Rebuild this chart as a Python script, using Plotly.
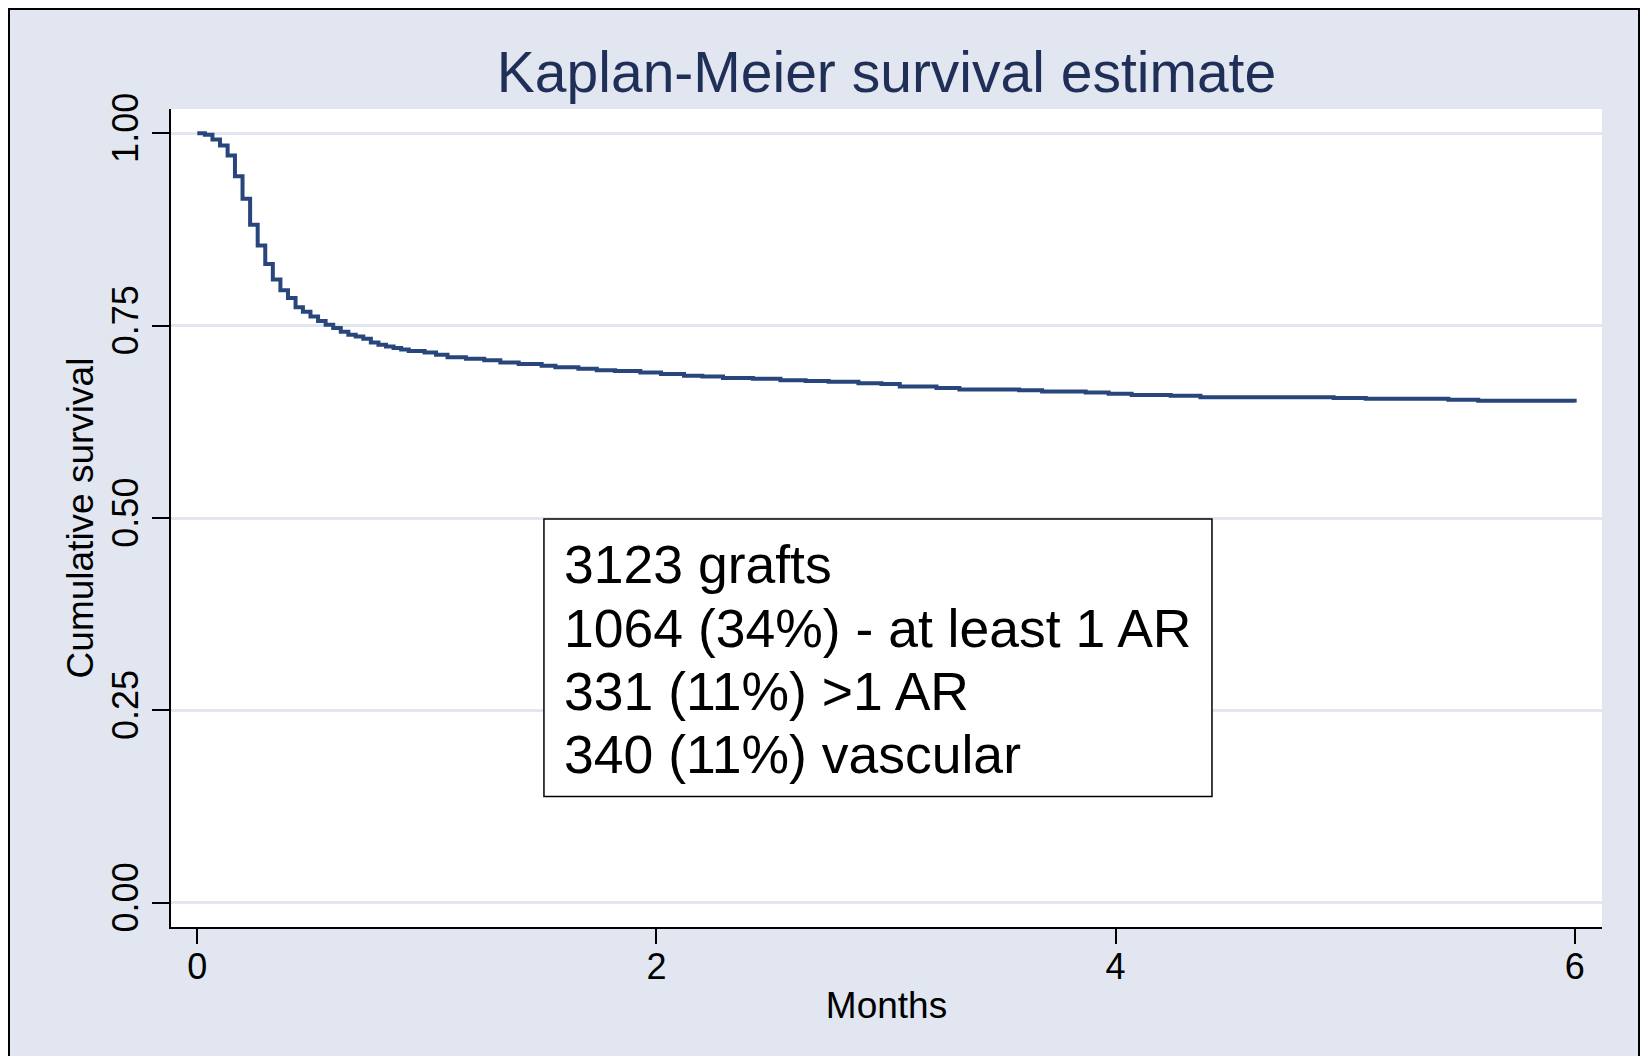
import plotly.graph_objects as go

# ---------------- data ----------------
months = [0.000, 0.033, 0.066, 0.099, 0.132, 0.164, 0.197, 0.230, 0.263, 0.296,
          0.329, 0.362, 0.395, 0.428, 0.460, 0.493, 0.526, 0.559, 0.592, 0.625,
          0.658, 0.690, 0.723, 0.756, 0.789, 0.822, 0.855, 0.888, 0.921, 0.990,
          1.040, 1.090, 1.170, 1.250, 1.320, 1.400, 1.500, 1.560, 1.660, 1.740,
          1.820, 1.930, 2.020, 2.120, 2.200, 2.290, 2.420, 2.540, 2.650, 2.750,
          2.880, 2.980, 3.060, 3.220, 3.320, 3.580, 3.680, 3.870, 3.970, 4.070,
          4.240, 4.370, 4.950, 5.090, 5.450, 5.580, 6.000]
survival = [1.000, 0.998, 0.992, 0.984, 0.971, 0.944, 0.915, 0.881, 0.854, 0.830,
            0.810, 0.796, 0.786, 0.774, 0.768, 0.762, 0.756, 0.751, 0.747, 0.742,
            0.738, 0.736, 0.733, 0.728, 0.725, 0.723, 0.721, 0.719, 0.717, 0.715,
            0.712, 0.709, 0.707, 0.705, 0.702, 0.700, 0.698, 0.696, 0.694, 0.692,
            0.691, 0.689, 0.687, 0.685, 0.684, 0.682, 0.681, 0.679, 0.678, 0.677,
            0.675, 0.674, 0.671, 0.669, 0.667, 0.666, 0.6645, 0.663, 0.6615, 0.660,
            0.659, 0.657, 0.656, 0.655, 0.6537, 0.6525, 0.650]

x_tick_values = [0, 2, 4, 6]
x_tick_labels = ["0", "2", "4", "6"]
y_tick_values = [0.0, 0.25, 0.50, 0.75, 1.00]
y_tick_labels = ["0.00", "0.25", "0.50", "0.75", "1.00"]

title_text = "Kaplan-Meier survival estimate"
x_title = "Months"
y_title = "Cumulative survival"
box_lines = ["3123 grafts",
             "1064 (34%) - at least 1 AR",
             "331 (11%) >1 AR",
             "340 (11%) vascular"]

# ---------------- styling ----------------
FONT = "Liberation Sans, Arial, Helvetica, sans-serif"
BG = "#E1E6F0"
LINE = "#28467C"
TITLE_C = "#1F2F57"

# figure sits in the page with the default 8px body margin
W, H = 1632, 1048
ML, MR, MT, MB = 163, 38, 101, 129
PW, PH = W - ML - MR, H - MT - MB


def px_to_paper_x(px):
    return (px - ML) / PW


def px_to_paper_y(py):
    return (H - MB - py) / PH


fig = go.Figure()

fig.add_trace(go.Scatter(
    x=months, y=survival, mode="lines",
    line=dict(color=LINE, width=4, shape="hv"),
    showlegend=False, hoverinfo="x+y",
))

frame = dict(color="black", width=2)
shapes = [
    # outer frame (left, top, right) around the graph region
    dict(type="line", xref="paper", yref="paper",
         x0=px_to_paper_x(1), x1=px_to_paper_x(1), y0=px_to_paper_y(H + 5), y1=px_to_paper_y(0),
         line=frame, layer="below"),
    dict(type="line", xref="paper", yref="paper",
         x0=px_to_paper_x(0), x1=px_to_paper_x(W), y0=px_to_paper_y(1), y1=px_to_paper_y(1),
         line=frame, layer="below"),
    dict(type="line", xref="paper", yref="paper",
         x0=px_to_paper_x(W - 1), x1=px_to_paper_x(W - 1), y0=px_to_paper_y(H + 5), y1=px_to_paper_y(0),
         line=frame, layer="below"),
    # text box
    dict(type="rect", xref="x", yref="y", x0=1.51, x1=4.42, y0=0.138, y1=0.4986,
         fillcolor="white", line=dict(color="black", width=1.5), layer="above"),
]

annotations = []
line_centers = [0.4396, 0.3564, 0.2745, 0.1932]
for txt, yc in zip(box_lines, line_centers):
    annotations.append(dict(
        x=1.588, y=yc, xref="x", yref="y", text=txt, showarrow=False,
        xanchor="left", yanchor="middle",
        font=dict(family=FONT, size=53.5, color="black"),
    ))

fig.update_layout(
    width=W, height=H,
    margin=dict(l=ML, r=MR, t=MT, b=MB, pad=0),
    paper_bgcolor=BG, plot_bgcolor="white",
    font=dict(family=FONT, color="black"),
    title=dict(text=title_text, x=0.5, xref="paper", y=1 - 64 / H, yref="container",
               xanchor="center", yanchor="middle",
               font=dict(family=FONT, size=57, color=TITLE_C)),
    xaxis=dict(range=[-0.1146, 6.119], tickmode="array", tickvals=x_tick_values,
               ticktext=x_tick_labels, ticks="outside", ticklen=15, tickwidth=2,
               tickcolor="black", showline=True, linecolor="black", linewidth=2,
               showgrid=False, zeroline=False, tickfont=dict(size=36, color="black"),
               ticklabelstandoff=-8,
               title=dict(text=x_title, font=dict(size=37, color="black"), standoff=6)),
    yaxis=dict(range=[-0.0315, 1.0315], tickmode="array", tickvals=y_tick_values,
               ticktext=y_tick_labels, ticks="outside", ticklen=17, tickwidth=2,
               tickcolor="black", showline=True, linecolor="black", linewidth=2,
               showgrid=True, gridcolor=BG, gridwidth=3, zeroline=False,
               tickangle=-90, tickfont=dict(size=36, color="black"),
               title=dict(text=y_title, font=dict(size=37, color="black"), standoff=0)),
    shapes=shapes, annotations=annotations,
)

fig.write_html("out.html")
